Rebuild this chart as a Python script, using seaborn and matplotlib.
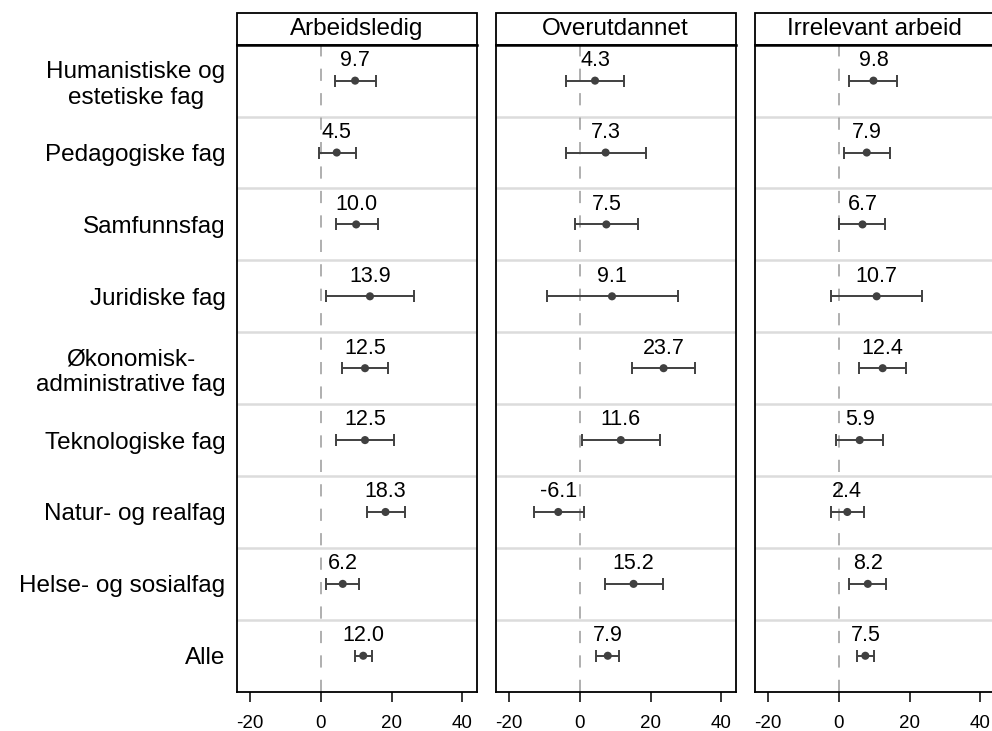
import numpy as np
import pandas as pd
import matplotlib
matplotlib.use('Agg')
import matplotlib.pyplot as plt
import seaborn as sns
from matplotlib.patches import Rectangle

# Row labels (top to bottom) and panel titles
categories = ['Humanistiske og\nestetiske fag', 'Pedagogiske fag', 'Samfunnsfag',
              'Juridiske fag', 'Økonomisk-\nadministrative fag', 'Teknologiske fag',
              'Natur- og realfag', 'Helse- og sosialfag', 'Alle']
panels = ['Arbeidsledig', 'Overutdannet', 'Irrelevant arbeid']

# Estimates with lower / upper confidence bounds
arb_est = [9.7, 4.5, 10.0, 13.9, 12.5, 12.5, 18.3, 6.2, 12.0]
arb_lo = [4.1, -0.5, 4.2, 1.4, 6.1, 4.4, 13.0, 1.6, 9.8]
arb_hi = [15.5, 9.9, 16.1, 26.4, 19.1, 20.7, 23.7, 10.7, 14.4]

over_est = [4.3, 7.3, 7.5, 9.1, 23.7, 11.6, -6.1, 15.2, 7.9]
over_lo = [-4.0, -4.0, -1.4, -9.4, 14.9, 0.6, -13.1, 7.1, 4.5]
over_hi = [12.5, 18.6, 16.5, 27.8, 32.5, 22.6, 1.1, 23.4, 11.1]

irr_est = [9.8, 7.9, 6.7, 10.7, 12.4, 5.9, 2.4, 8.2, 7.5]
irr_lo = [2.9, 1.4, 0.1, -2.1, 5.7, -0.7, -2.3, 3.0, 5.2]
irr_hi = [16.6, 14.4, 13.2, 23.4, 19.1, 12.4, 7.1, 13.4, 9.9]

xticks = [-20, 0, 20, 40]

frames = []
for name, est, lo, hi in zip(panels, [arb_est, over_est, irr_est],
                             [arb_lo, over_lo, irr_lo], [arb_hi, over_hi, irr_hi]):
    frames.append(pd.DataFrame({'panel': name, 'cat': categories, 'pos': range(len(categories)),
                                'est': est, 'lo': lo, 'hi': hi}))
df = pd.concat(frames, ignore_index=True)

sns.set_theme(style='white')
plt.rcParams['font.family'] = ['Liberation Sans', 'DejaVu Sans']
plt.rcParams['text.color'] = 'black'
plt.rcParams['xtick.labelcolor'] = 'black'
plt.rcParams['ytick.labelcolor'] = 'black'

W, H = 992, 731
fig = plt.figure(figsize=(W / 100, H / 100), dpi=100)

lefts = [236.7, 495.7, 754.7]
ax_w = 240.0
bottom_px, top_px = 691.7, 44.7
box_h = 31.7
mark_col = '#404040'

for i, name in enumerate(panels):
    ax = fig.add_axes([lefts[i] / W, (H - bottom_px) / H, ax_w / W, (bottom_px - top_px) / H])
    sub = df[df['panel'] == name]

    # row separators
    for k in range(len(categories) - 1):
        ax.axhline(k + 0.5, color='#dcdcdc', lw=1.8, zorder=1)
    ax.axvline(0, color='#9a9a9a', lw=1.1, dashes=(8, 8), zorder=2)

    ax.errorbar(sub['est'], sub['pos'], xerr=[sub['est'] - sub['lo'], sub['hi'] - sub['est']],
                fmt='none', ecolor=mark_col, elinewidth=1.4, capsize=4, capthick=1.4, zorder=3)
    sns.scatterplot(data=sub, x='est', y='pos', ax=ax, color=mark_col, s=34,
                    edgecolor='none', zorder=4, legend=False)

    for _, r in sub.iterrows():
        ax.annotate(f"{r['est']:.1f}", (r['est'], r['pos']), xytext=(0, 14.5),
                    textcoords='offset points', ha='center', va='center', fontsize=15.5)

    ax.set_xlim(-23.8, 44.1)
    ax.set_ylim(len(categories) - 0.5, -0.5)
    ax.set_xticks(xticks)
    ax.set_xticklabels([str(t) for t in xticks], fontsize=13.5)
    ax.tick_params(axis='x', bottom=True, length=7, width=1.1, pad=10, color='black')
    ax.set_yticks(range(len(categories)))
    if i == 0:
        ax.set_yticklabels(categories, fontsize=17.5, ha='right', multialignment='center')
        ax.tick_params(axis='y', length=0, pad=8)
    else:
        ax.set_yticklabels([])
        ax.tick_params(axis='y', length=0)
    ax.set_xlabel('')
    ax.set_ylabel('')

    for s in ['left', 'right', 'bottom', 'top']:
        ax.spines[s].set_visible(True)
        ax.spines[s].set_color('black')
        ax.spines[s].set_linewidth(1.3)
    ax.spines['top'].set_linewidth(1.8)

    # title box above each panel
    hfrac = box_h / (bottom_px - top_px)
    ax.add_patch(Rectangle((0, 1), 1, hfrac, transform=ax.transAxes, fill=False,
                           edgecolor='black', lw=1.3, clip_on=False))
    ax.text(0.5, 1 + hfrac / 2, name, transform=ax.transAxes, ha='center', va='center',
            fontsize=17.5)

fig.savefig('out.png', dpi=100)
